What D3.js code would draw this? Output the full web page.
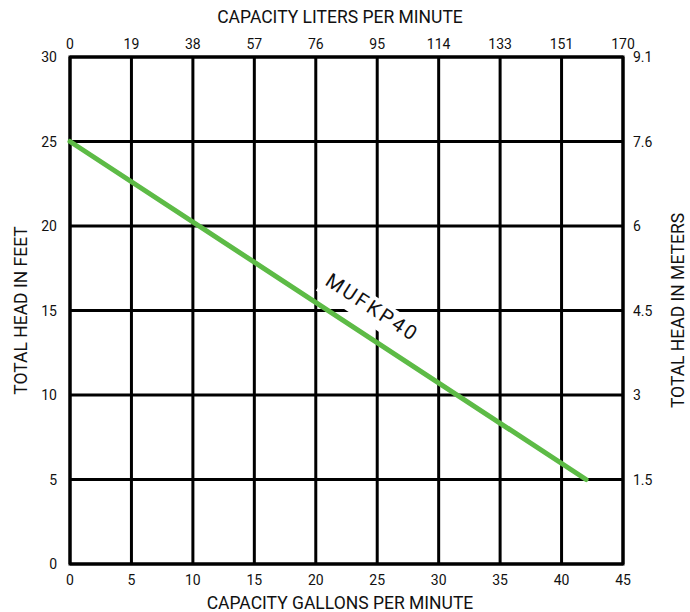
<!DOCTYPE html>
<html><head><meta charset="utf-8">
<script src="https://cdn.jsdelivr.net/npm/d3@7"></script>
<style>body{margin:0;background:#fff;} text{font-family:Roboto, "Noto Sans", sans-serif;fill:#111;}</style>
</head><body>
<svg id="c" width="690" height="612"></svg>
<script>
const gpmTicks = [0,5,10,15,20,25,30,35,40,45];
const lpmLabels = ["0","19","38","57","76","95","114","133","151","170"];
const feetTicks = [0,5,10,15,20,25,30];
const meterLabels = ["","1.5","3","4.5","6","7.6","9.1"];
const seriesName = "MUFKP40";
const curveGpm = [0, 42];
const curveFeet = [25, 5];

const svg = d3.select("#c");
const L=70,R=623,T=57,B=564;
const x = d3.scaleLinear().domain([0,45]).range([L,R]);
const y = d3.scaleLinear().domain([0,30]).range([B,T]);

// grid
const g = svg.append("g");
g.selectAll("line.v").data(gpmTicks).join("line")
 .attr("x1",d=>x(d)).attr("x2",d=>x(d)).attr("y1",T).attr("y2",B)
 .attr("stroke","#000").attr("stroke-width",3);
g.selectAll("line.h").data(feetTicks).join("line")
 .attr("y1",d=>y(d)).attr("y2",d=>y(d)).attr("x1",L).attr("x2",R)
 .attr("stroke","#000").attr("stroke-width",3);
g.append("rect").attr("x",L).attr("y",T).attr("width",R-L).attr("height",B-T)
 .attr("fill","none").attr("stroke","#000").attr("stroke-width",3);

// axes labels
const fs = 14;
svg.selectAll("text.b").data(gpmTicks).join("text").attr("class","b")
 .attr("x",d=>x(d)).attr("y",B+21).attr("text-anchor","middle").attr("font-size",fs).text(d=>d);
svg.selectAll("text.t").data(lpmLabels).join("text").attr("class","t")
 .attr("x",(d,i)=>x(gpmTicks[i])).attr("y",T-8).attr("text-anchor","middle").attr("font-size",fs).text(d=>d);
svg.selectAll("text.l").data(feetTicks).join("text").attr("class","l")
 .attr("x",L-13).attr("y",d=>y(d)+5).attr("text-anchor","end").attr("font-size",fs).text(d=>d);
svg.selectAll("text.r").data(feetTicks).join("text").attr("class","r")
 .attr("x",R+10).attr("y",d=>y(d)+5).attr("text-anchor","start").attr("font-size",fs).text((d,i)=>meterLabels[i]);

const tfs = 17.5;
svg.append("text").attr("x",340).attr("y",23).attr("text-anchor","middle").attr("font-size",tfs).text("CAPACITY LITERS PER MINUTE");
svg.append("text").attr("x",340).attr("y",609).attr("text-anchor","middle").attr("font-size",tfs).text("CAPACITY GALLONS PER MINUTE");
svg.append("text").attr("transform",`translate(27,${(T+B)/2}) rotate(-90)`).attr("text-anchor","middle").attr("font-size",tfs).text("TOTAL HEAD IN FEET");
svg.append("text").attr("transform",`translate(684,${(T+B)/2}) rotate(-90)`).attr("text-anchor","middle").attr("font-size",tfs).text("TOTAL HEAD IN METERS");

// label (background + text), drawn before the curve so the curve stays visible
const ang = Math.atan2(y(curveFeet[1])-y(curveFeet[0]), x(curveGpm[1])-x(curveGpm[0]))*180/Math.PI;
const lx = 23.4, ly = curveFeet[0] + (curveFeet[1]-curveFeet[0])*lx/curveGpm[1];
const lab = svg.append("g").attr("transform",`translate(${x(lx)},${y(ly)}) rotate(${ang}) translate(0,-20)`);
const bg = lab.append("rect").attr("fill","#fff");
const tx = lab.append("text").attr("text-anchor","middle").attr("font-size",20).attr("letter-spacing",2.5).text(seriesName);
const bb = tx.node().getBBox();
bg.attr("x",bb.x-3).attr("y",bb.y+1).attr("width",bb.width+4).attr("height",bb.height+4);

// curve
const pts = curveGpm.map((d,i)=>[d,curveFeet[i]]);
svg.append("path").datum(pts)
 .attr("d",d3.line().x(d=>x(d[0])).y(d=>y(d[1])))
 .attr("fill","none").attr("stroke","#5dbb46").attr("stroke-width",5).attr("stroke-linecap","round");
</script>
</body></html>
